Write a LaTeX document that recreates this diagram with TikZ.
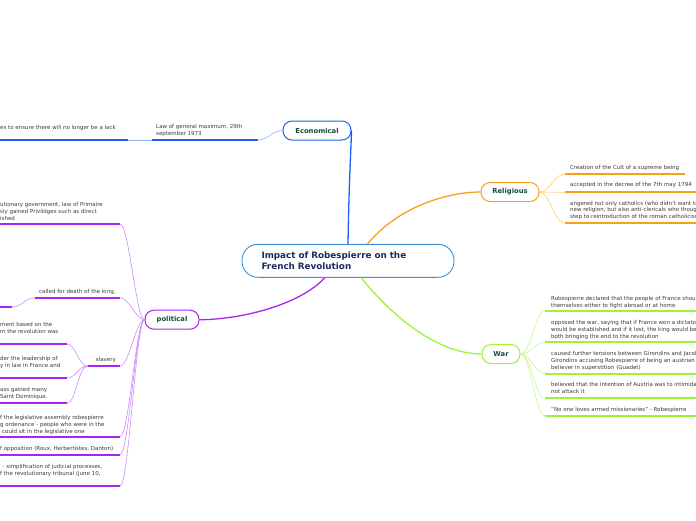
\documentclass[tikz,border=0pt]{standalone}
\usepackage{fontspec}
\setmainfont{DejaVu Sans}
\definecolor{econ}{HTML}{1F5FF5}
\definecolor{econlt}{HTML}{8FB0FA}
\definecolor{relo}{HTML}{F9A01B}
\definecolor{relolt}{HTML}{FBCB82}
\definecolor{warg}{HTML}{9DF23A}
\definecolor{warglt}{HTML}{C6F88C}
\definecolor{polp}{HTML}{A526F3}
\definecolor{polplt}{HTML}{CF8AF8}
\definecolor{cblue}{HTML}{3B8ED8}
\definecolor{cnavy}{HTML}{1B2A5E}
\definecolor{labelgreen}{HTML}{134D3C}
\definecolor{leafgray}{HTML}{3A3A3A}
\begin{document}
\begin{tikzpicture}[x=1pt,y=-1pt,
  leaf/.style={font=\fontsize{5.5}{6.7}\selectfont, text=leafgray, align=left, anchor=north west, inner sep=0pt},
  branch/.style={draw, line width=1pt, rounded corners=9pt, fill=white, minimum height=19pt, inner sep=0pt, font=\fontsize{6.8}{8}\selectfont\bfseries, text=labelgreen},
  mainc/.style={line width=1.3pt},
  subc/.style={line width=0.6pt},
  uline/.style={line width=1.7pt},
]
\useasboundingbox (0,0) rectangle (696,520);

% ---------- central ----------
\node[draw=cblue, line width=0.9pt, rounded corners=16pt, fill=white, minimum width=212pt, minimum height=33pt, text width=173pt, inner xsep=19.5pt, inner ysep=0pt, align=left, font=\fontsize{8.8}{10.5}\selectfont\bfseries, text=cnavy] (c) at (348,260.8) {Impact of Robespierre on the\\French Revolution};

% ---------- branches ----------
\node[branch, draw=econ, minimum width=68pt] (econ) at (317,130.5) {Economical};
\node[branch, draw=relo, minimum width=58pt] (rel) at (510,192) {Religious};
\node[branch, draw=warg, minimum width=38pt] (war) at (501,354) {War};
\node[branch, draw=polp, minimum width=54pt] (pol) at (172,319.7) {political};

\draw[mainc, econ] (c.north) .. controls (349,180) and (351,150) .. (econ.east);
\draw[mainc, relo] (c.41) .. controls (400,205) and (450,192) .. (rel.west);
\draw[mainc, warg] (c.-52) .. controls (395,320) and (440,354) .. (war.west);
\draw[mainc, polp] (c.216) .. controls (300,305) and (240,319.7) .. (pol.east);

% ---------- economical leaves ----------
\node[leaf] (e1) at (156,124.3) {Law of general maximum, 29th\\september 1973};
\node[leaf] (e2) at (0,125.6) {es to ensure there will no longer be a lack};
\coordinate (e1a) at (258,140); \coordinate (e1b) at (152,140);
\coordinate (e2a) at (128,140); \coordinate (e2b) at (0,140);
\draw[subc, econlt] (econ.west) .. controls (272,130.5) and (268,140) .. (e1a);
\draw[uline, econ] (e1a) -- (e1b);
\draw[subc, econlt] (e1b) -- (e2a);
\draw[uline, econ] (e2a) -- (e2b);

% ---------- religious leaves ----------
\node[leaf] (r1) at (570,165) {Creation of the Cult of a supreme being};
\node[leaf] (r2) at (570,182.6) {accepted in the decree of the 7th may 1794};
\node[leaf] (r3) at (570,200.8) {angered not only catholics (who didn't want to\\new religion, but also anti-clericals who thought\\step to reintroduction of the roman catholicism};
\coordinate (r1a) at (565,174); \coordinate (r1b) at (685,174);
\coordinate (r2a) at (565,192.3); \coordinate (r2b) at (696,192.3);
\coordinate (r3a) at (565,223); \coordinate (r3b) at (696,223);
\draw[subc, relolt] (rel.east) .. controls (550,192) and (554,174) .. (r1a);
\draw[subc, relolt] (rel.east) .. controls (550,192) and (554,192.3) .. (r2a);
\draw[subc, relolt] (rel.east) .. controls (550,192) and (554,223) .. (r3a);
\draw[uline, relo] (r1a) -- (r1b);
\draw[uline, relo] (r2a) -- (r2b);
\draw[uline, relo] (r3a) -- (r3b);

% ---------- war leaves ----------
\node[leaf] (w1) at (551,296.6) {Robespierre declared that the people of France should\\themselves either to fight abroad or at home};
\node[leaf] (w2) at (551,320.6) {opposed the war, saying that if France won a dictator\\would be established and if it lost, the king would be\\both bringing the end to the revolution};
\node[leaf] (w3) at (551,351.6) {caused further tensions between Girondins and Jacobins\\Girondins accusing Robespierre of being an austrian\\believer in superstition (Guadet)};
\node[leaf] (w4) at (551,382.3) {believed that the intention of Austria was to intimidate\\not attack it};
\node[leaf] (w5) at (551,407.3) {"No one loves armed missionaries" - Robespierre};
\coordinate (w1a) at (545,311); \coordinate (w1b) at (696,311);
\coordinate (w2a) at (545,342.3); \coordinate (w2b) at (696,342.3);
\coordinate (w3a) at (545,373.7); \coordinate (w3b) at (696,373.7);
\coordinate (w4a) at (545,398.3); \coordinate (w4b) at (696,398.3);
\coordinate (w5a) at (545,416); \coordinate (w5b) at (696,416);
\draw[subc, warglt] (war.east) .. controls (531,354) and (535,311) .. (w1a);
\draw[subc, warglt] (war.east) .. controls (531,354) and (535,342.3) .. (w2a);
\draw[subc, warglt] (war.east) .. controls (531,354) and (535,373.7) .. (w3a);
\draw[subc, warglt] (war.east) .. controls (531,354) and (535,398.3) .. (w4a);
\draw[subc, warglt] (war.east) .. controls (531,354) and (535,416) .. (w5a);
\draw[uline, warg] (w1a) -- (w1b);
\draw[uline, warg] (w2a) -- (w2b);
\draw[uline, warg] (w3a) -- (w3b);
\draw[uline, warg] (w4a) -- (w4b);
\draw[uline, warg] (w5a) -- (w5b);

% ---------- political leaves ----------
\node[leaf] (p1) at (0,202.3) {utionary government, law of Primaire\\sly gained Privildges such as direct\\ished};
\node[leaf] (p2) at (39,289.6) {called for death of the king,};
\node[leaf] (sl) at (95.7,357.3) {slavery};
\node[leaf] (sa) at (0,322.3) {ment based on the\\m the revolution was};
\node[leaf] (sb) at (0,356.3) {der the leadership of\\y in law in France and};
\node[leaf] (sc) at (0,387.3) {ass gained many\\Saint Dominique.};
\node[leaf] (p4) at (0,415.6) {f the legislative assembly robespierre\\g ordenance - people who were in the\\\hspace*{2pt}could sit in the legislative one};
\node[leaf] (p5) at (0,446.6) {f opposition (Roux, Herbertistes, Danton)};
\node[leaf] (p6) at (0,464.6) {\hspace*{2.5pt}- simplification of judicial processes,\\f the revolutionary tribunal (june 10,};
\coordinate (p1a) at (120,224); \coordinate (p1b) at (0,224);
\coordinate (p2a) at (120,297.7); \coordinate (p2b) at (35,297.7);
\coordinate (p3a) at (12,307); \coordinate (p3b) at (0,307);
\coordinate (sla) at (120,366); \coordinate (slb) at (88,366);
\coordinate (saa) at (67,344); \coordinate (sab) at (0,344);
\coordinate (sba) at (67,378); \coordinate (sbb) at (0,378);
\coordinate (sca) at (67,403.3); \coordinate (scb) at (0,403.3);
\coordinate (p4a) at (120,436.7); \coordinate (p4b) at (0,436.7);
\coordinate (p5a) at (120,454.7); \coordinate (p5b) at (0,454.7);
\coordinate (p6a) at (120,486); \coordinate (p6b) at (0,486);
\draw[subc, polplt] (pol.west) .. controls (136,319.7) and (129,224) .. (p1a);
\draw[subc, polplt] (pol.west) .. controls (136,319.7) and (129,297.7) .. (p2a);
\draw[subc, polplt] (pol.west) .. controls (136,319.7) and (129,366) .. (sla);
\draw[subc, polplt] (pol.west) .. controls (136,319.7) and (129,436.7) .. (p4a);
\draw[subc, polplt] (pol.west) .. controls (136,319.7) and (129,454.7) .. (p5a);
\draw[subc, polplt] (pol.west) .. controls (136,319.7) and (129,486) .. (p6a);
\draw[subc, polplt] (p2b) .. controls (25,297.7) and (22,307) .. (p3a);
\draw[subc, polplt] (slb) .. controls (78,366) and (76,344) .. (saa);
\draw[subc, polplt] (slb) .. controls (78,366) and (76,378) .. (sba);
\draw[subc, polplt] (slb) .. controls (78,366) and (76,403.3) .. (sca);
\draw[uline, polp] (p1a) -- (p1b);
\draw[uline, polp] (p2a) -- (p2b);
\draw[uline, polp] (p3a) -- (p3b);
\draw[uline, polp] (sla) -- (slb);
\draw[uline, polp] (saa) -- (sab);
\draw[uline, polp] (sba) -- (sbb);
\draw[uline, polp] (sca) -- (scb);
\draw[uline, polp] (p4a) -- (p4b);
\draw[uline, polp] (p5a) -- (p5b);
\draw[uline, polp] (p6a) -- (p6b);
\end{tikzpicture}
\end{document}
